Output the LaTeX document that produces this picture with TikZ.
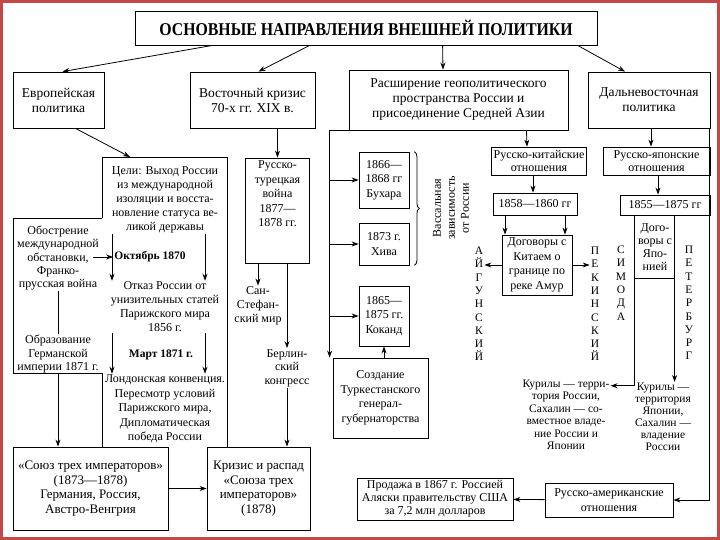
\documentclass[tikz,border=0pt]{standalone}
\usepackage{fontspec}
\setmainfont{Liberation Serif}
\usetikzlibrary{arrows.meta,positioning,calc,decorations.pathreplacing}
\definecolor{slidered}{RGB}{196,72,72}

\begin{document}
\begin{tikzpicture}[x=1pt, y=-1pt,
    box/.style={rectangle, draw, line width=0.8pt, align=center, inner sep=2pt},
    bigbox/.style={box, font=\fontsize{13.5}{15}\selectfont},
    txt/.style={align=center, inner sep=1pt},
    letters/.style={align=center, inner sep=1pt, font=\fontsize{11.5}{13.3}\selectfont},
    arrow/.style={-{Stealth[length=7pt,width=5pt]}, line width=0.8pt},
    line/.style={line width=0.8pt},
    every node/.style={font=\fontsize{12}{14.5}\selectfont}
]
\useasboundingbox (0,0) rectangle (720,540);
\fill[white] (0,0) rectangle (720,540);
\draw[slidered, line width=3pt] (1.5,1.5) rectangle (718.5,538.5);

% ═══════════════════════════════════════════════════════════════
% Title and the four directions
% ═══════════════════════════════════════════════════════════════
\node[box, minimum width=462, minimum height=34, font=\bfseries\fontsize{18}{20}\selectfont] (title) at (366,28) {\scalebox{0.88}[1]{ОСНОВНЫЕ НАПРАВЛЕНИЯ ВНЕШНЕЙ ПОЛИТИКИ}};

\node[bigbox, minimum width=91, minimum height=56] (evr) at (58.5,100) {Европейская\\политика};
\node[bigbox, minimum width=125, minimum height=56] (vost) at (252.5,100) {Восточный кризис\\70-х гг. XIX в.};
\node[bigbox, minimum width=219, minimum height=60] (rassh) at (458.5,100) {Расширение геополитического\\пространства России и\\присоединение Средней Азии};
\node[bigbox, minimum width=122, minimum height=56] (dalne) at (649,100) {Дальневосточная\\политика};

\draw[arrow] ($(title.south west)+(78,0)$) -- ($(evr.north)+(4,0)$);
\draw[arrow] ($(title.south west)+(175,0)$) -- ($(vost.north)+(6,0)$);
\draw[arrow] ($(title.south west)+(308,0)$) -- ($(rassh.north)+(-15.5,0)$);
\draw[arrow] ($(title.south west)+(443,0)$) -- ($(dalne.north)+(-24,0)$);

% ═══════════════════════════════════════════════════════════════
% European policy
% ═══════════════════════════════════════════════════════════════
\draw[line] (102,218) -- (102,157) -- (227,157) -- (227,447);
\draw[line] (102,218) -- (13,218) -- (13,373) -- (102,373) -- (102,447);

\node[txt, font=\fontsize{12}{14}\selectfont] (celi) at (165,200) {Цели: Выход России\\из международной\\изоляции и восста-\\новление статуса ве-\\ликой державы};
\node[txt, font=\fontsize{12}{13.3}\selectfont] (obostr) at (58,258) {Обострение\\международной\\обстановки,\\Франко-\\прусская война};
\node[txt, font=\bfseries\fontsize{11.5}{14}\selectfont] (okt) at (150,257) {Октябрь 1870};
\node[txt, font=\fontsize{12}{14}\selectfont] (otkaz) at (165,307) {Отказ России от\\унизительных статей\\Парижского мира\\1856 г.};
\node[txt, font=\fontsize{12}{13.5}\selectfont] (obraz) at (58,354) {Образование\\Германской\\империи 1871 г.};
\node[txt, font=\bfseries\fontsize{11.5}{14}\selectfont] (mart) at (161,355) {Март 1871 г.};
\node[txt, font=\fontsize{12}{14.5}\selectfont] (london) at (165,409) {Лондонская конвенция.\\Пересмотр условий\\Парижского мира,\\Дипломатическая\\победа России};

\node[box, minimum width=155, minimum height=83, font=\fontsize{13}{14.5}\selectfont] (soyuz) at (90.5,488.5) {«Союз трех императоров»\\(1873—1878)\\Германия, Россия,\\Австро-Венгрия};
\node[box, minimum width=103, minimum height=83, font=\fontsize{13}{14.5}\selectfont] (krizis) at (258.5,488.5) {Кризис и распад\\«Союза трех\\императоров»\\(1878)};

\draw[arrow] ($(evr.south)+(17,0)$) -- (130,157);
\draw[arrow] ($(okt.west)+(-20,0)$) -- (okt.west);
\draw[arrow] ($(celi.south)+(-53,0)$) -- ($(otkaz.north)+(-53,0)$);
\draw[arrow] ($(celi.south)+(40,0)$) -- ($(otkaz.north)+(40,0)$);
\draw[arrow] ($(otkaz.south)+(-53,0)$) -- ($(london.north)+(-53,0)$);
\draw[arrow] ($(otkaz.south)+(40,0)$) -- ($(london.north)+(40,0)$);
\draw[line] (obostr.south) -- (obraz.north);
\draw[arrow] (obraz.south) -- (obraz.south |- soyuz.north);
\draw[arrow] (soyuz) -- (krizis);

% ═══════════════════════════════════════════════════════════════
% Eastern crisis
% ═══════════════════════════════════════════════════════════════
\node[box, inner sep=3pt] (rtw) at (277.5,210.5) {\parbox[c][99pt][t]{58pt}{\centering Русско-\\турецкая\\война\\1877—\\1878 гг.}};
\node[txt, font=\fontsize{12}{14}\selectfont] (sanst) at (258,306) {Сан-\\Стефан-\\ский мир};
\node[txt, font=\fontsize{12}{13.5}\selectfont] (berlin) at (287,368) {Берлин-\\ский\\конгресс};

\draw[arrow] (vost.south -| rtw.north) -- (rtw.north);
\draw[arrow] (rtw.south -| sanst.north) -- (sanst.north);
\draw[arrow] (rtw.south -| berlin.north) -- (berlin.north);
\draw[arrow] (berlin.south) -- (berlin.south |- krizis.north);

% ═══════════════════════════════════════════════════════════════
% Central Asia
% ═══════════════════════════════════════════════════════════════
\node[box, minimum width=50, minimum height=56] (buh) at (384,180) {1866—\\1868 гг\\Бухара};
\node[box, minimum width=50, minimum height=42] (hiva) at (384,244) {1873 г.\\Хива};
\node[box, minimum width=50, minimum height=60] (kok) at (384,316) {1865—\\1875 гг.\\Коканд};
\node[box, minimum width=95, minimum height=80] (sozd) at (380.5,398) {Создание\\Туркестанского\\генерал-\\губернаторства};

\draw[decorate, decoration={brace, amplitude=5pt}, line width=0.8pt] ($(buh.north east)+(5,0)$) -- ($(hiva.south east)+(5,0)$);
\node[txt, rotate=90, font=\fontsize{12}{14}\selectfont] (vass) at (451,208) {Вассальная\\зависимость\\от России};

\coordinate (rs) at ($(rassh.south west)+(-19,0)$);
\draw[arrow] (rassh.south west) -- (rs) -- (rs |- sozd.north);
\draw[arrow] (rs |- buh.west) -- (buh.west);
\draw[arrow] (rs |- hiva.west) -- (hiva.west);
\draw[arrow] (rs |- kok.west) -- (kok.west);
\draw[arrow] (sozd.north -| kok.south) -- (kok.south);

% ═══════════════════════════════════════════════════════════════
% Far East
% ═══════════════════════════════════════════════════════════════
\node[box, minimum width=92, minimum height=28, font=\fontsize{12}{12.5}\selectfont] (rk) at (539,161) {Русско-китайские\\отношения};
\node[box, minimum width=84, minimum height=22] (y1858) at (535,204) {1858—1860 гг};
\node[box, minimum width=70, minimum height=60] (dk) at (537,265) {Договоры с\\Китаем о\\границе по\\реке Амур};
\node[letters] (aigun) at (479,304) {А\\Й\\Г\\У\\Н\\С\\К\\И\\Й};
\node[letters] (pek) at (595,304) {П\\Е\\К\\И\\Н\\С\\К\\И\\Й};
\node[letters] (simoda) at (621,283) {С\\И\\М\\О\\Д\\А};
\node[letters] (peterb) at (689,303) {П\\Е\\Т\\Е\\Р\\Б\\У\\Р\\Г};

\node[box, minimum width=107, minimum height=28, font=\fontsize{12}{12.5}\selectfont] (rya) at (656.5,161) {Русско-японские\\отношения};
\node[box, minimum width=90, minimum height=20] (y1855) at (665,205) {1855—1875 гг};
\node[txt, font=\fontsize{12}{13}\selectfont] (dya) at (655,247) {Дого-\\воры с\\Япо-\\нией};
\node[txt, font=\fontsize{11.5}{12.5}\selectfont] (kur1) at (566,415) {Курилы — терри-\\тория России,\\Сахалин — со-\\вместное владе-\\ние России и\\Японии};
\node[txt, font=\fontsize{11.5}{12}\selectfont] (kur2) at (663,417) {Курилы —\\территория\\Японии,\\Сахалин —\\владение\\России};

\node[box, minimum width=128, minimum height=34] (ram) at (609,500) {Русско-американские\\отношения};
\node[box, minimum width=156, minimum height=42, font=\fontsize{12}{13}\selectfont] (prod) at (435,499) {Продажа в 1867 г. Россией\\Аляски правительству США\\за 7,2 млн долларов};

\draw[arrow] ($(rassh.south)+(68,0)$) -- ($(rk.north)+(-12,0)$);
\draw[arrow] ($(rk.south)+(-6,0)$) -- ($(y1858.north)+(-2,0)$);
\draw[arrow] ($(y1858.south)+(-30,0)$) -- ($(dk.north)+(-32,0)$);
\draw[arrow] ($(y1858.south)+(30,0)$) -- ($(dk.north)+(28,0)$);
\draw[arrow] (dk.west) -- (dk.west -| aigun.east);
\draw[arrow] (dk.east) -- (dk.east -| pek.west);

\draw[arrow] ($(dalne.south)+(2,0)$) -- ($(rya.north)+(-5.5,0)$);
\draw[arrow] ($(rya.south)+(1.5,0)$) -- ($(y1855.north)+(-7,0)$);
\coordinate (jl) at ($(y1855.south west)+(15,0)$);
\coordinate (jr) at ($(y1855.south west)+(55,0)$);
\draw[line] ($(jl)+(0,63)$) -- ($(jr)+(0,63)$);
\draw[arrow] (jl) |- ($(kur1.north east)+(0,7)$);
\draw[arrow] (jr) -- (jr |- kur2.north);
\draw[arrow] ($(dalne.south east)+(-1,0)$) |- (ram.east);
\draw[arrow] (ram) -- (prod);

\end{tikzpicture}
\end{document}
